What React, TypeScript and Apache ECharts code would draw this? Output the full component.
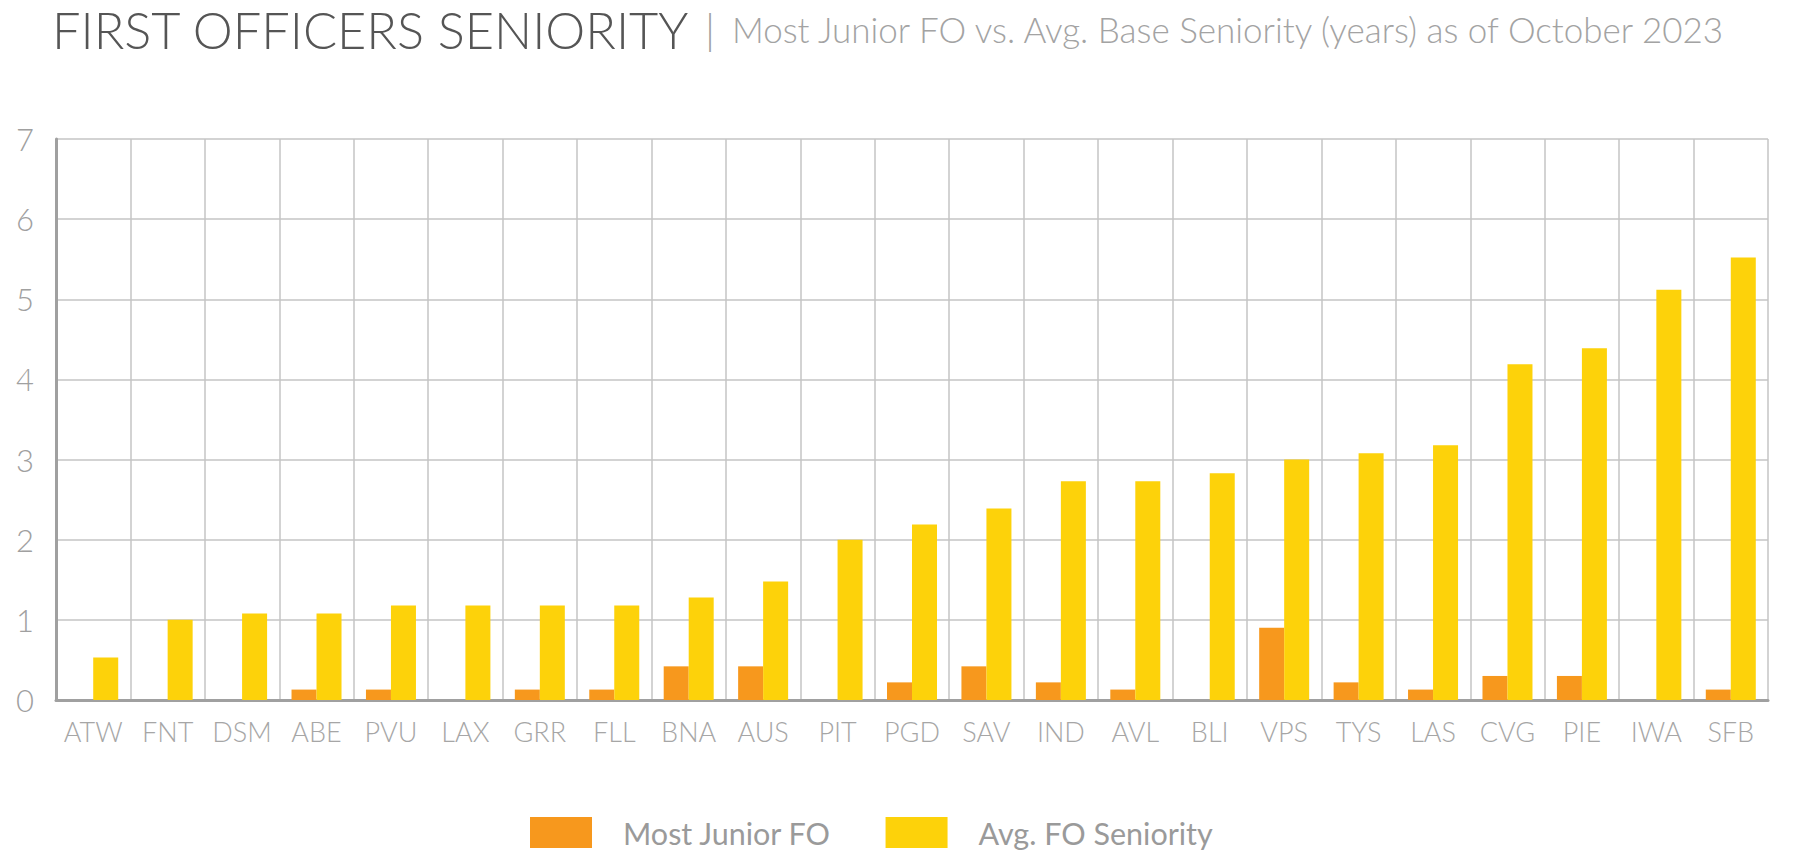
import React, { useEffect, useRef } from "react";
import * as echarts from "echarts";

const categories = ["ATW","FNT","DSM","ABE","PVU","LAX","GRR","FLL","BNA","AUS","PIT","PGD","SAV","IND","AVL","BLI","VPS","TYS","LAS","CVG","PIE","IWA","SFB"];
const mostJuniorFO = [0,0,0,0.13,0.13,0,0.13,0.13,0.42,0.42,0,0.22,0.42,0.22,0.13,0,0.9,0.22,0.13,0.3,0.3,0,0.13];
const avgFOSeniority = [0.53,1.0,1.08,1.08,1.18,1.18,1.18,1.18,1.28,1.48,2.0,2.19,2.39,2.73,2.73,2.83,3.0,3.08,3.18,4.19,4.39,5.12,5.52];
const seriesNames = ["Most Junior FO", "Avg. FO Seniority"];
const titleText = "FIRST OFFICERS SENIORITY";
const subtitleText = "Most Junior FO vs. Avg. Base Seniority (years) as of October 2023";

export default function App() {
  const ref = useRef<HTMLDivElement>(null);
  useEffect(() => {
    if (!ref.current) return;
    const chart = echarts.init(ref.current, null, { renderer: "svg" });
    const font = "Lato, 'Open Sans', sans-serif";
    chart.setOption({
      animation: false,
      backgroundColor: "#ffffff",
      title: {
        left: 52,
        top: 5,
        padding: 0,
        text: `{a|${titleText}} {s||} {b|${subtitleText}}`,
        textStyle: {
          rich: {
            a: { fontFamily: font, fontSize: 50.5, fontWeight: 300, color: "#555555", lineHeight: 48 },
            s: { fontFamily: font, fontSize: 42, fontWeight: 300, color: "#a0a0a0", padding: [0, 12, 0, 10], lineHeight: 48 },
            b: { fontFamily: font, fontSize: 35, fontWeight: 300, color: "#a3a3a3", lineHeight: 48 },
          },
        },
      },
      legend: {
        left: 525,
        top: 812,
        itemWidth: 62,
        itemHeight: 31,
        itemGap: 54,
        icon: "rect",
        textStyle: { fontFamily: font, fontSize: 30.5, color: "#9a9a9a", padding: [0, 0, 0, 26] },
        data: seriesNames,
      },
      grid: { left: 56, right: 52, top: 139, bottom: 157, containLabel: false },
      xAxis: {
        type: "category",
        data: categories,
        axisLine: { show: true, lineStyle: { color: "#a0a0a0", width: 3 } },
        axisTick: { show: false },
        splitLine: { show: true, interval: 0, lineStyle: { color: "#c4c4c4", width: 1.5 } },
        axisLabel: { interval: 0, fontFamily: font, fontSize: 27, fontWeight: 300, color: "#a6a6a6", margin: 18 },
      },
      yAxis: {
        type: "value",
        min: 0,
        max: 7,
        interval: 1,
        axisLine: { show: true, lineStyle: { color: "#a0a0a0", width: 3 } },
        axisTick: { show: false },
        splitLine: { show: true, lineStyle: { color: "#c4c4c4", width: 1.5 } },
        axisLabel: { fontFamily: font, fontSize: 31, fontWeight: 300, color: "#a0a0a0", margin: 22 },
      },
      series: [
        {
          name: seriesNames[0],
          type: "bar",
          data: mostJuniorFO,
          barWidth: 25,
          barGap: "0%",
          itemStyle: { color: "#F7981D" },
        },
        {
          name: seriesNames[1],
          type: "bar",
          data: avgFOSeniority,
          barWidth: 25,
          barGap: "0%",
          itemStyle: { color: "#FDD20A" },
        },
      ],
    });
    return () => chart.dispose();
  }, []);
  return (
    <div
      ref={ref}
      style={{ position: "absolute", left: 0, top: 0, width: 1820, height: 857, background: "#fff" }}
    />
  );
}
